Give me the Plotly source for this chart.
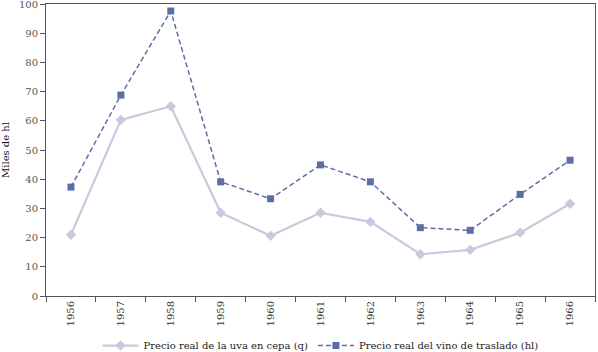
import plotly.graph_objects as go

years = ["1956", "1957", "1958", "1959", "1960", "1961", "1962", "1963", "1964", "1965", "1966"]
uva = [21.0, 60.3, 65.0, 28.5, 20.6, 28.5, 25.4, 14.3, 15.8, 21.7, 31.6]
vino = [37.3, 68.8, 97.6, 39.1, 33.3, 44.9, 39.1, 23.4, 22.5, 34.8, 46.5]
name_uva = "Precio real de la uva en cepa (q)"
name_vino = "Precio real del vino de traslado (hl)"
y_ticks = [0, 10, 20, 30, 40, 50, 60, 70, 80, 90, 100]

FONT = "DejaVu Serif, Liberation Serif, serif"

fig = go.Figure()
fig.add_trace(go.Scatter(
    x=years, y=uva, name=name_uva, mode="lines+markers",
    line=dict(color="#c9c9de", width=2.2),
    marker=dict(symbol="diamond", size=8, color="#c9c9de"),
))
fig.add_trace(go.Scatter(
    x=years, y=vino, name=name_vino, mode="lines+markers",
    line=dict(color="#5d6ea6", width=1.5, dash="5px,3px"),
    marker=dict(symbol="square", size=7, color="#5d6ea6"),
))

fig.update_layout(
    width=598, height=352,
    margin=dict(l=46, r=3, t=4, b=56, autoexpand=False),
    paper_bgcolor="white", plot_bgcolor="white",
    font=dict(family=FONT, size=10, color="#333333"),
    showlegend=True,
    legend=dict(orientation="h", x=0.5, xanchor="center", y=-0.12, yanchor="top",
                font=dict(family=FONT, size=10, color="#222222"),
                itemwidth=36, tracegroupgap=0),
    xaxis=dict(
        type="category", tickson="boundaries", ticks="outside", ticklen=5,
        tickcolor="#555555", showline=True, linecolor="#555555", linewidth=1,
        mirror=True, showgrid=False, tickangle=-90, automargin=False,
        tickfont=dict(family=FONT, size=10, color="#333333"),
        range=[-0.5, 10.5],
    ),
    yaxis=dict(
        range=[0, 100], tickvals=y_ticks, ticks="outside", ticklen=5,
        tickcolor="#555555", showline=True, linecolor="#555555", linewidth=1,
        mirror=True, showgrid=False, zeroline=False, automargin=False,
        ticklabeloverflow="allow",
        tickfont=dict(family=FONT, size=10, color="#555555"),
        title=dict(text="Miles de hl", font=dict(family=FONT, size=10, color="#111111"), standoff=10),
    ),
)

fig.write_html("out.html", config={"displayModeBar": False},
               post_script="document.body.style.margin='0';document.body.style.overflow='hidden';")
